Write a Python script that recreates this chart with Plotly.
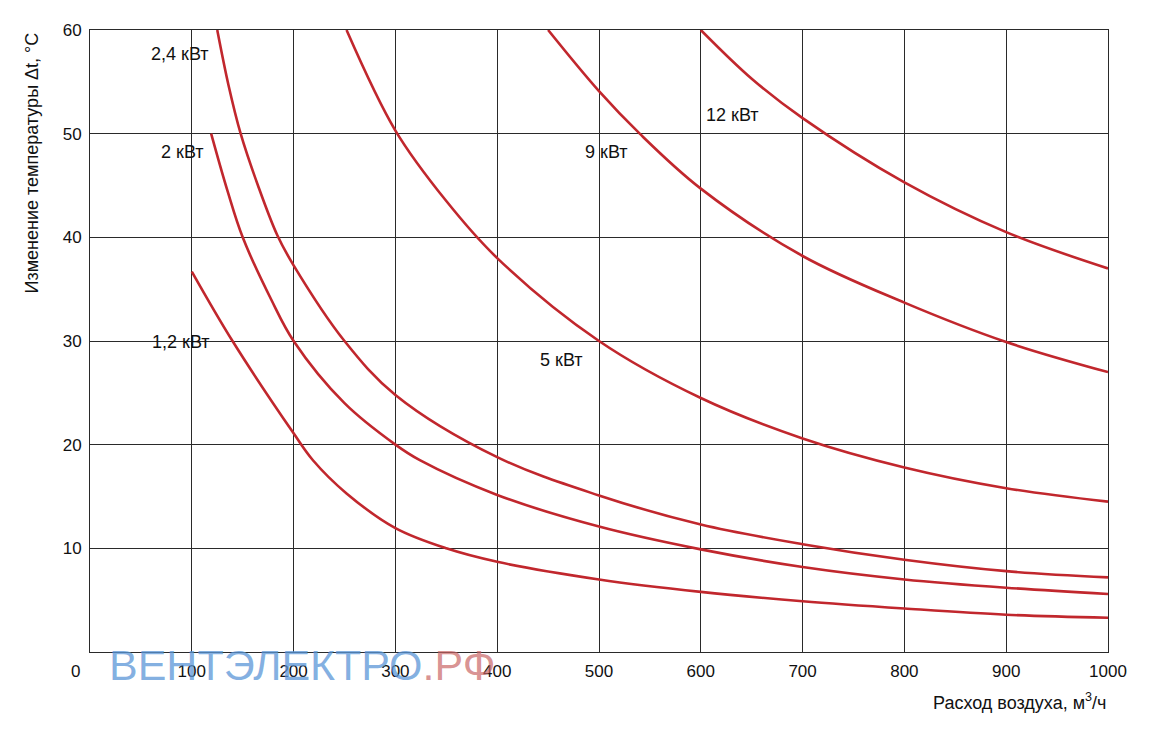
import plotly.graph_objects as go

# Curves: airflow (m3/h) vs temperature rise (°C)
x_12 = [600, 650, 700, 800, 900, 1000]
y_12 = [60.0, 55.3, 51.5, 45.3, 40.5, 37.0]

x_9 = [450, 500, 540, 600, 700, 800, 900, 1000]
y_9 = [60.0, 54.1, 50.0, 44.7, 38.2, 33.7, 29.9, 27.0]

x_5 = [252, 300, 350, 400, 500, 600, 700, 800, 900, 1000]
y_5 = [60.0, 50.3, 43.5, 38.0, 30.0, 24.5, 20.6, 17.8, 15.8, 14.5]

x_24 = [125, 136, 148, 165, 184, 200, 250, 300, 400, 500, 600, 700, 800, 900, 1000]
y_24 = [60.0, 54.7, 50.0, 45.0, 40.2, 37.3, 30.0, 24.8, 18.8, 15.1, 12.3, 10.4, 8.9, 7.8, 7.2]

x_2 = [119, 135, 150, 178, 200, 250, 300, 324, 400, 500, 600, 700, 800, 900, 1000]
y_2 = [50.0, 44.5, 40.0, 34.0, 30.0, 24.0, 20.0, 18.5, 15.15, 12.1, 9.9, 8.2, 7.0, 6.2, 5.6]

x_12kw = [100, 140, 200, 219, 252, 300, 350, 400, 500, 600, 700, 800, 900, 1000]
y_12kw = [36.7, 30.0, 21.1, 18.5, 15.3, 11.95, 10.0, 8.7, 7.0, 5.8, 4.9, 4.2, 3.6, 3.3]

series = [
    ("12 кВт", x_12, y_12),
    ("9 кВт", x_9, y_9),
    ("5 кВт", x_5, y_5),
    ("2,4 кВт", x_24, y_24),
    ("2 кВт", x_2, y_2),
    ("1,2 кВт", x_12kw, y_12kw),
]

# Curve labels (text, x, y)
label_text = ["2,4 кВт", "2 кВт", "1,2 кВт", "5 кВт", "9 кВт", "12 кВт"]
label_x = [88, 91, 89, 463, 507, 631]
label_y = [57.7, 48.2, 29.9, 28.2, 48.2, 51.8]

x_ticks = [100, 200, 300, 400, 500, 600, 700, 800, 900, 1000]
y_ticks = [10, 20, 30, 40, 50, 60]

RED = "#c1272d"
GRID = "#2a2a2a"
FONT = "Liberation Sans, Arial, sans-serif"
FS = 17

fig = go.Figure()
for name, xs, ys in series:
    fig.add_trace(go.Scatter(x=xs, y=ys, mode="lines", name=name,
                             line=dict(color=RED, width=2.6, shape="spline", smoothing=1.0),
                             showlegend=False, hoverinfo="skip"))

for t, lx, ly in zip(label_text, label_x, label_y):
    fig.add_annotation(x=lx, y=ly, text=t, showarrow=False, xref="x", yref="y",
                       font=dict(family=FONT, size=18, color="#111"))

# watermark (below the axis)
fig.add_annotation(xref="paper", yref="paper", x=0.0167, y=-0.021, xanchor="left", yanchor="middle",
                   text="<span style='color:rgba(91,150,215,0.75)'>ВЕНТЭЛЕКТРО</span>"
                        "<span style='color:rgba(200,100,100,0.7)'>.РФ</span>",
                   showarrow=False, font=dict(family=FONT, size=43))

fig.add_annotation(xref="paper", yref="paper", x=-0.0147, y=-0.032, xanchor="center", yanchor="middle",
                   text="0", showarrow=False, font=dict(family=FONT, size=FS, color="#111"))

fig.add_annotation(xref="paper", yref="paper", x=-0.057, y=1.0, xanchor="center", yanchor="top",
                   text="Изменение температуры Δt, °С", textangle=-90, showarrow=False,
                   font=dict(family=FONT, size=18, color="#111"))
fig.add_annotation(xref="paper", yref="paper", x=1.0, y=0, xanchor="right", yanchor="top",
                   yshift=-36, text="Расход воздуха, м<sup>3</sup>/ч", showarrow=False,
                   font=dict(family=FONT, size=18, color="#111"))

fig.update_xaxes(range=[0, 1000], tickvals=x_ticks, ticktext=[str(v) for v in x_ticks],
                 showgrid=True, gridcolor=GRID, gridwidth=1, showline=True, linecolor=GRID,
                 linewidth=1, mirror=True, zeroline=False, ticks="outside", ticklen=4,
                 tickcolor="rgba(0,0,0,0)",
                 tickfont=dict(family=FONT, size=FS, color="#111"))
fig.update_yaxes(range=[0, 60], tickvals=y_ticks, ticktext=[str(v) for v in y_ticks],
                 showgrid=True, gridcolor=GRID, gridwidth=1, showline=True, linecolor=GRID,
                 linewidth=1, mirror=True, zeroline=False, ticks="outside", ticklen=4,
                 tickcolor="rgba(0,0,0,0)",
                 tickfont=dict(family=FONT, size=FS, color="#111"))

fig.update_layout(width=1150, height=730, margin=dict(l=82, r=50, t=22, b=86),
                  plot_bgcolor="white", paper_bgcolor="white")

fig.write_html("out.html")
